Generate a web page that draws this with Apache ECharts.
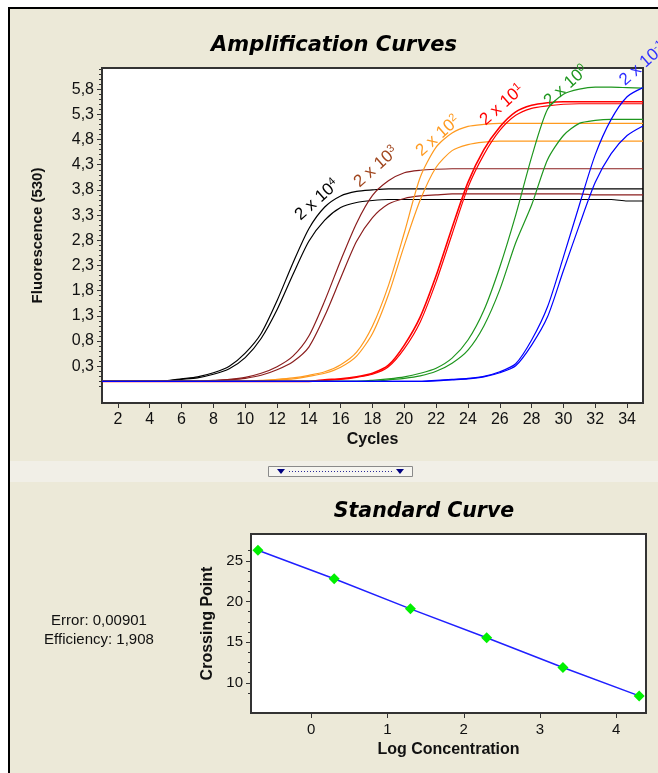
<!DOCTYPE html>
<html>
<head>
<meta charset="utf-8">
<title>Amplification Curves</title>
<script src="https://cdn.jsdelivr.net/npm/echarts@6/dist/echarts.min.js"></script>
<style>
  html, body { margin: 0; padding: 0; background: #fff; }
  #wrap { position: relative; width: 658px; height: 773px; overflow: hidden; }
  /* grey window panel with the dark top/left edge */
  #frame { position: absolute; left: 8px; top: 7px; right: -10px; bottom: -10px;
           background: #ECE9D8; border-left: 2px solid #000; border-top: 2px solid #000; }
  #band { position: absolute; left: 10px; right: 0; top: 461px; height: 21px; background: #F1EFE7; }
  #chart { position: absolute; left: 0; top: 0; width: 658px; height: 773px; }
</style>
</head>
<body>
<div id="wrap">
  <div id="frame"></div>
  <div id="band"></div>
  <div id="chart"></div>
</div>
<script>
// cycles 1..35
var cycles = [1, 2, 3, 4, 5, 6, 7, 8, 9, 10, 11, 12, 13, 14, 15, 16, 17, 18, 19, 20,
  21, 22, 23, 24, 25, 26, 27, 28, 29, 30, 31, 32, 33, 34, 35];

// fluorescence (530) per cycle, two replicates per dilution
var black1 = [0, 0, 0, 0, 0.01, 0.05, 0.09, 0.17, 0.30, 0.56, 0.95, 1.60, 2.35, 3.03, 3.46, 3.68, 3.77, 3.80,
  3.82, 3.82, 3.82, 3.82, 3.82, 3.82, 3.82, 3.82, 3.82, 3.82, 3.82, 3.82, 3.82, 3.82, 3.82, 3.82, 3.82];
var black2 = [0, 0, 0, 0, 0.01, 0.04, 0.07, 0.14, 0.25, 0.47, 0.85, 1.42, 2.12, 2.78, 3.20, 3.45, 3.55, 3.59,
  3.61, 3.61, 3.61, 3.61, 3.61, 3.61, 3.61, 3.61, 3.61, 3.61, 3.61, 3.61, 3.61, 3.61, 3.61, 3.58, 3.58];
var brown1 = [0, 0, 0, 0, 0, 0, 0, 0.02, 0.04, 0.08, 0.16, 0.29, 0.50, 0.90, 1.60, 2.40, 3.14, 3.69, 3.98, 4.14,
  4.19, 4.21, 4.22, 4.22, 4.22, 4.22, 4.22, 4.22, 4.22, 4.22, 4.22, 4.22, 4.22, 4.22, 4.22];
var brown2 = [0, 0, 0, 0, 0, 0, 0, 0.01, 0.03, 0.06, 0.12, 0.23, 0.39, 0.68, 1.30, 2.05, 2.78, 3.25, 3.52, 3.63,
  3.68, 3.70, 3.72, 3.72, 3.72, 3.72, 3.72, 3.72, 3.72, 3.72, 3.72, 3.70, 3.70, 3.70, 3.70];
var orange1 = [0, 0, 0, 0, 0, 0, 0, 0, 0, 0, 0.02, 0.04, 0.07, 0.12, 0.19, 0.33, 0.58, 1.10, 1.90, 2.95,
  4.05, 4.65, 4.93, 5.06, 5.10, 5.12, 5.12, 5.12, 5.12, 5.12, 5.12, 5.12, 5.12, 5.12, 5.12];
var orange2 = [0, 0, 0, 0, 0, 0, 0, 0, 0, 0, 0, 0.03, 0.05, 0.10, 0.16, 0.28, 0.50, 0.95, 1.72, 2.70,
  3.60, 4.25, 4.58, 4.70, 4.75, 4.77, 4.77, 4.77, 4.77, 4.77, 4.77, 4.77, 4.77, 4.77, 4.77];
var red1 = [0, 0, 0, 0, 0, 0, 0, 0, 0, 0, 0, 0, 0, 0, 0.03, 0.05, 0.09, 0.16, 0.32, 0.72,
  1.28, 2.10, 3.05, 3.95, 4.60, 5.05, 5.35, 5.48, 5.53, 5.55, 5.55, 5.55, 5.55, 5.55, 5.55];
var red2 = [0, 0, 0, 0, 0, 0, 0, 0, 0, 0, 0, 0, 0, 0, 0.02, 0.04, 0.08, 0.14, 0.29, 0.65,
  1.18, 1.98, 2.92, 3.85, 4.50, 4.98, 5.28, 5.42, 5.47, 5.50, 5.51, 5.51, 5.51, 5.51, 5.51];
var green1 = [0, 0, 0, 0, 0, 0, 0, 0, 0, 0, 0, 0, 0, 0, 0, 0, 0, 0.02, 0.05, 0.09,
  0.16, 0.26, 0.46, 0.82, 1.41, 2.27, 3.30, 4.45, 5.40, 5.70, 5.80, 5.84, 5.84, 5.83, 5.82];
var green2 = [0, 0, 0, 0, 0, 0, 0, 0, 0, 0, 0, 0, 0, 0, 0, 0, 0, 0, 0.03, 0.06,
  0.11, 0.20, 0.36, 0.62, 1.10, 1.82, 2.75, 3.50, 4.40, 4.88, 5.12, 5.18, 5.20, 5.20, 5.20];
var blue1 = [0, 0, 0, 0, 0, 0, 0, 0, 0, 0, 0, 0, 0, 0, 0, 0, 0, 0, 0, 0,
  0, 0.02, 0.04, 0.06, 0.10, 0.19, 0.35, 0.82, 1.48, 2.47, 3.50, 4.50, 5.20, 5.65, 5.83];
var blue2 = [0, 0, 0, 0, 0, 0, 0, 0, 0, 0, 0, 0, 0, 0, 0, 0, 0, 0, 0, 0,
  0, 0.01, 0.03, 0.05, 0.09, 0.17, 0.31, 0.72, 1.28, 2.20, 3.10, 3.95, 4.52, 4.88, 5.07];

// tick labels
var fluoTicks = [0.3, 0.8, 1.3, 1.8, 2.3, 2.8, 3.3, 3.8, 4.3, 4.8, 5.3, 5.8];
var cycleTicks = [2, 4, 6, 8, 10, 12, 14, 16, 18, 20, 22, 24, 26, 28, 30, 32, 34];
var cpTicks = [10, 15, 20, 25];
var cpMinorTicks = [8.75, 11.25, 12.5, 13.75, 16.25, 17.5, 18.75, 21.25, 22.5, 23.75, 26.25];
var logTicks = [0, 1, 2, 3, 4];

// standard curve
var logConc = [-0.699, 0.301, 1.301, 2.301, 3.301, 4.301];
var crossingPoint = [26.3, 22.8, 19.1, 15.55, 11.9, 8.4];

// small ticks every 0.1 on the fluorescence axis
var fluoMinor = [];
for (var k = -1; k <= 62; k++) {
  if ((k - 3) % 5 !== 0) fluoMinor.push(k / 10);
}

var FONT = "'Liberation Sans', Arial, sans-serif";
var comma = function (v) { return String(v).replace('.', ','); };

function pairs(ys) {
  return ys.map(function (y, i) { return [cycles[i], y]; });
}

function curve(name, ys, color, w) {
  return {
    name: name,
    type: 'line',
    xAxisIndex: 0,
    yAxisIndex: 0,
    data: pairs(ys),
    showSymbol: false,
    smooth: 0.25,
    lineStyle: { color: color, width: w || 1.2 },
    silent: true
  };
}

// rotated curve label (centre point), superscript via rich text
function tag(x, y, base, sup, color) {
  return {
    type: 'text',
    x: x,
    y: y,
    rotation: 0.72,
    style: {
      text: '{n|' + base + '}{s|' + sup + '}',
      fill: color,
      align: 'center',
      verticalAlign: 'middle',
      rich: {
        n: { fontSize: 17, fontFamily: FONT, fill: color, lineHeight: 19 },
        s: { fontSize: 11, fontFamily: FONT, fill: color, lineHeight: 11, verticalAlign: 'top' }
      }
    },
    z: 50
  };
}

var chart = echarts.init(document.getElementById('chart'));

var tickLine = { color: '#333', width: 1 };
var noLine = { show: false, onZero: false };

chart.setOption({
  animation: false,
  title: [
    {
      text: 'Amplification Curves',
      left: 329, top: 30, textAlign: 'center',
      textStyle: { fontFamily: 'DejaVu Sans', fontStyle: 'italic', fontWeight: 'bold', fontSize: 21, color: '#000' }
    },
    {
      text: 'Standard Curve',
      left: 419, top: 497, textAlign: 'center',
      textStyle: { fontFamily: 'DejaVu Sans', fontStyle: 'italic', fontWeight: 'bold', fontSize: 20.5, color: '#000' }
    }
  ],
  grid: [
    { left: 102, top: 68, right: 15, bottom: 370, show: true, backgroundColor: '#fff',
      borderColor: '#333', borderWidth: 2 },
    { left: 251, top: 534, right: 12, bottom: 60, show: true, backgroundColor: '#fff',
      borderColor: '#333', borderWidth: 2 }
  ],
  xAxis: [
    {
      type: 'value', gridIndex: 0, min: 1, max: 35,
      name: 'Cycles', nameLocation: 'middle', nameGap: 29,
      nameTextStyle: { fontFamily: FONT, fontWeight: 'bold', fontSize: 16, color: '#111' },
      axisLine: noLine,
      axisTick: { show: true, length: 5, customValues: cycleTicks, lineStyle: tickLine },
      axisLabel: { customValues: cycleTicks, margin: 9, fontFamily: FONT, fontSize: 16, color: '#111' },
      splitLine: { show: false }
    },
    {
      type: 'value', gridIndex: 1, min: -0.79, max: 4.39,
      name: 'Log Concentration', nameLocation: 'middle', nameGap: 29,
      nameTextStyle: { fontFamily: FONT, fontWeight: 'bold', fontSize: 16, color: '#111' },
      axisLine: noLine,
      axisTick: { show: true, length: 5, customValues: logTicks, lineStyle: tickLine },
      axisLabel: { customValues: logTicks, margin: 9, fontFamily: FONT, fontSize: 15, color: '#111' },
      splitLine: { show: false }
    }
  ],
  yAxis: [
    {
      type: 'value', gridIndex: 0, min: -0.43, max: 6.22, position: 'left',
      name: 'Fluorescence (530)', nameLocation: 'middle', nameGap: 57, nameRotate: 90,
      nameTextStyle: { fontFamily: FONT, fontWeight: 'bold', fontSize: 15, color: '#111' },
      axisLine: noLine,
      axisTick: { show: true, length: 5, customValues: fluoTicks, lineStyle: tickLine },
      axisLabel: { customValues: fluoTicks, margin: 8, formatter: comma, fontFamily: FONT, fontSize: 16, color: '#111' },
      splitLine: { show: false }
    },
    {
      // minor ticks only
      type: 'value', gridIndex: 0, min: -0.43, max: 6.22, position: 'left', offset: 0,
      axisLine: noLine,
      axisTick: { show: true, length: 3, customValues: fluoMinor, lineStyle: tickLine },
      axisLabel: { show: false },
      splitLine: { show: false }
    },
    {
      type: 'value', gridIndex: 1, min: 6.3, max: 28.3, position: 'left',
      name: 'Crossing Point', nameLocation: 'middle', nameGap: 30, nameRotate: 90,
      nameTextStyle: { fontFamily: FONT, fontWeight: 'bold', fontSize: 16, color: '#111' },
      axisLine: noLine,
      axisTick: { show: true, length: 5, customValues: cpTicks, lineStyle: tickLine },
      axisLabel: { customValues: cpTicks, margin: 8, fontFamily: FONT, fontSize: 15, color: '#111' },
      splitLine: { show: false }
    },
    {
      type: 'value', gridIndex: 1, min: 6.3, max: 28.3, position: 'left', offset: 0,
      axisLine: noLine,
      axisTick: { show: true, length: 3, customValues: cpMinorTicks, lineStyle: tickLine },
      axisLabel: { show: false },
      splitLine: { show: false }
    }
  ],
  series: [
    curve('2 x 10^4 a', black1, '#000000'),
    curve('2 x 10^4 b', black2, '#000000'),
    curve('2 x 10^3 a', brown1, '#8B1E1E'),
    curve('2 x 10^3 b', brown2, '#8B1E1E'),
    curve('2 x 10^2 a', orange1, '#FF9A1F'),
    curve('2 x 10^2 b', orange2, '#FF9A1F'),
    curve('2 x 10^1 a', red1, '#FF0000', 1.6),
    curve('2 x 10^1 b', red2, '#FF0000', 1.2),
    curve('2 x 10^0 a', green1, '#1E961E'),
    curve('2 x 10^0 b', green2, '#1E961E'),
    curve('2 x 10^-1 a', blue1, '#0000FF'),
    curve('2 x 10^-1 b', blue2, '#0000FF'),
    {
      name: 'Standard',
      type: 'line',
      xAxisIndex: 1,
      yAxisIndex: 2,
      data: logConc.map(function (x, i) { return [x, crossingPoint[i]]; }),
      symbol: 'diamond',
      symbolSize: 11,
      itemStyle: { color: '#00F000' },
      lineStyle: { color: '#2020FF', width: 1.5 },
      silent: true
    }
  ],
  graphic: {
    elements: [
      tag(317, 200, '2 x 10', '4', '#000000'),
      tag(376, 167, '2 x 10', '3', '#A0461E'),
      tag(438, 136, '2 x 10', '2', '#FF9A1F'),
      tag(502, 105, '2 x 10', '1', '#FF0000'),
      tag(566, 86, '2 x 10', '0', '#1E961E'),
      tag(643, 64, '2 x 10', '-1', '#3030FF'),
      {
        type: 'text', x: 99, y: 621,
        style: { text: 'Error: 0,00901', font: '15px ' + FONT, fill: '#111', align: 'center', verticalAlign: 'middle' }
      },
      {
        type: 'text', x: 99, y: 640,
        style: { text: 'Efficiency: 1,908', font: '15px ' + FONT, fill: '#111', align: 'center', verticalAlign: 'middle' }
      },
      // splitter handle between the two panels
      {
        type: 'rect',
        shape: { x: 268.5, y: 466.5, width: 144, height: 10 },
        style: { fill: '#F6F5F0', stroke: '#8A8A8A', lineWidth: 1 }
      },
      {
        type: 'line',
        shape: { x1: 289, y1: 471.5, x2: 393, y2: 471.5 },
        style: { stroke: '#2A2A9A', lineWidth: 1, lineDash: [1, 2] }
      },
      {
        type: 'polygon',
        shape: { points: [[277, 469], [285, 469], [281, 474]] },
        style: { fill: '#000080' }
      },
      {
        type: 'polygon',
        shape: { points: [[396, 469], [404, 469], [400, 474]] },
        style: { fill: '#000080' }
      }
    ]
  }
});
</script>
</body>
</html>
